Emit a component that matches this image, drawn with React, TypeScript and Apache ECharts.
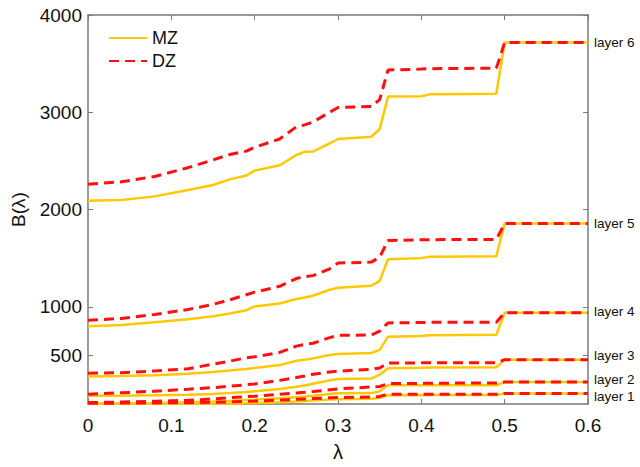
import React, { useEffect, useRef } from "react";
import * as echarts from "echarts";

const lambdas = [0, 0.04, 0.08, 0.12, 0.15, 0.17, 0.19, 0.2, 0.23, 0.25, 0.26, 0.27, 0.29, 0.3, 0.34, 0.35, 0.36, 0.4, 0.41, 0.49, 0.5, 0.6];

const layerNames = ["layer 1", "layer 2", "layer 3", "layer 4", "layer 5", "layer 6"];

const mzLayer1 = [2, 2, 3, 4, 5, 6, 8, 10, 18, 26, 30, 35, 45, 50, 55, 62, 91, 91, 92, 92, 108, 108];
const dzLayer1 = [8, 9, 11, 14, 18, 22, 27, 30, 40, 48, 52, 56, 63, 66, 72, 78, 101, 101, 101, 101, 108, 108];
const mzLayer2 = [5, 7, 10, 17, 25, 32, 41, 45, 58, 70, 76, 84, 102, 111, 112, 130, 192, 192, 192, 192, 226, 226];
const dzLayer2 = [15, 20, 28, 38, 52, 66, 75, 80, 100, 114, 120, 128, 146, 155, 175, 180, 210, 212, 214, 216, 226, 226];
const mzLayer3 = [84, 86, 89, 96, 103, 112, 124, 132, 155, 178, 190, 208, 243, 256, 263, 300, 368, 372, 375, 378, 456, 456];
const dzLayer3 = [101, 115, 132, 152, 168, 182, 198, 206, 243, 272, 287, 305, 330, 338, 356, 370, 422, 423, 424, 425, 456, 456];
const mzLayer4 = [284, 287, 295, 312, 328, 344, 360, 370, 400, 445, 455, 469, 503, 513, 524, 557, 692, 699, 706, 712, 939, 939];
const dzLayer4 = [316, 322, 340, 362, 410, 440, 475, 485, 530, 595, 612, 625, 682, 706, 709, 750, 834, 838, 840, 841, 939, 939];
const mzLayer5 = [800, 812, 840, 872, 902, 930, 965, 1003, 1033, 1080, 1095, 1114, 1175, 1195, 1216, 1266, 1489, 1500, 1515, 1520, 1857, 1857];
const dzLayer5 = [861, 880, 920, 972, 1025, 1070, 1124, 1150, 1210, 1290, 1310, 1320, 1390, 1449, 1459, 1509, 1682, 1688, 1690, 1692, 1857, 1857];
const mzLayer6 = [2090, 2097, 2135, 2200, 2252, 2310, 2350, 2400, 2455, 2560, 2593, 2596, 2680, 2725, 2748, 2826, 3161, 3165, 3184, 3191, 3718, 3718];
const dzLayer6 = [2259, 2285, 2340, 2430, 2510, 2565, 2600, 2640, 2725, 2850, 2870, 2900, 3000, 3049, 3059, 3130, 3434, 3444, 3448, 3454, 3718, 3718];

const mzSeries = [mzLayer1, mzLayer2, mzLayer3, mzLayer4, mzLayer5, mzLayer6];
const dzSeries = [dzLayer1, dzLayer2, dzLayer3, dzLayer4, dzLayer5, dzLayer6];

const xTicks = [0, 0.1, 0.2, 0.3, 0.4, 0.5, 0.6];
const yTicks = [500, 1000, 2000, 3000, 4000];

const labelOffsets = [3, -3, -4, -1, 0, 0];

const FONT = "Liberation Sans, Arial, Helvetica, sans-serif";
const MZ_COLOR = "#ffc800";
const DZ_COLOR = "#ff1010";
const AXIS_COLOR = "#7a7a7a";

export default function App() {
  const ref = useRef<HTMLDivElement>(null);

  useEffect(() => {
    if (!ref.current) return;
    document.body.style.margin = "0";
    const chart = echarts.init(ref.current, undefined, { renderer: "svg" });

    const toData = (vals: number[]) => vals.map((v, i) => [lambdas[i], v]);

    const series: any[] = [];
    mzSeries.forEach((vals) => {
      series.push({
        name: "MZ",
        type: "line",
        data: toData(vals),
        showSymbol: false,
        symbol: "none",
        lineStyle: { color: MZ_COLOR, width: 2.5 },
        itemStyle: { color: MZ_COLOR },
        z: 2,
      });
    });
    dzSeries.forEach((vals, li) => {
      series.push({
        name: "DZ",
        type: "line",
        data: toData(vals),
        showSymbol: false,
        symbol: "none",
        lineStyle: { color: DZ_COLOR, width: 3, type: [10, 6] },
        itemStyle: { color: DZ_COLOR },
        endLabel: {
          show: true,
          distance: 6,
          offset: [0, labelOffsets[li]],
          formatter: () => layerNames[li],
          fontSize: 13.5,
          fontFamily: FONT,
          color: "#111",
        },
        z: 3,
      });
    });

    const axisLine = { show: true, onZero: false, lineStyle: { color: AXIS_COLOR, width: 1.5 } };
    const axisTickBase = { show: true, inside: true, length: 5, lineStyle: { color: AXIS_COLOR } };

    chart.setOption({
      animation: false,
      backgroundColor: "#ffffff",
      grid: { left: 88, right: 52, top: 15, bottom: 58, containLabel: false },
      legend: {
        data: ["MZ", "DZ"],
        orient: "vertical",
        left: 103,
        top: 24,
        itemWidth: 38,
        itemHeight: 14,
        itemGap: 5,
        itemStyle: { opacity: 0 },
        textStyle: { fontSize: 18, fontFamily: FONT, color: "#111" },
      },
      xAxis: [
        {
          type: "value",
          min: 0,
          max: 0.6,
          interval: 0.1,
          name: "λ",
          nameLocation: "middle",
          nameGap: 38,
          nameTextStyle: { fontSize: 20, fontFamily: FONT, color: "#111" },
          axisLine,
          axisTick: axisTickBase,
          axisLabel: {
            customValues: xTicks,
            formatter: (v: number) => String(Math.round(v * 10) / 10),
            fontSize: 19,
            fontFamily: FONT,
            color: "#111",
            margin: 12,
          },
          splitLine: { show: false },
        },
        {
          type: "value",
          position: "top",
          min: 0,
          max: 0.6,
          interval: 0.1,
          axisLine,
          axisTick: axisTickBase,
          axisLabel: { show: false },
          splitLine: { show: false },
        },
      ],
      yAxis: [
        {
          type: "value",
          min: 0,
          max: 4000,
          name: "B(λ)",
          nameLocation: "middle",
          nameGap: 60,
          nameRotate: 90,
          nameTextStyle: { fontSize: 19, fontFamily: FONT, color: "#111" },
          axisLine,
          axisTick: { ...axisTickBase, customValues: yTicks },
          axisLabel: {
            customValues: yTicks,
            formatter: (v: number) => String(v),
            fontSize: 19,
            fontFamily: FONT,
            color: "#111",
            margin: 6,
          },
          splitLine: { show: false },
        },
        {
          type: "value",
          position: "right",
          min: 0,
          max: 4000,
          axisLine,
          axisTick: { ...axisTickBase, customValues: yTicks },
          axisLabel: { show: false },
          splitLine: { show: false },
        },
      ],
      series,
    });

    return () => chart.dispose();
  }, []);

  return <div ref={ref} style={{ width: 640, height: 467 }} />;
}
